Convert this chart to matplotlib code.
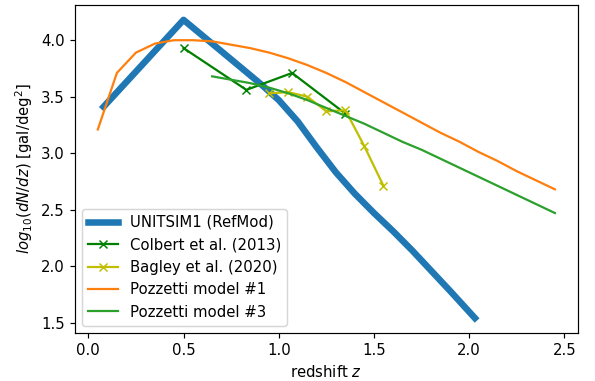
import matplotlib
matplotlib.use('Agg')
import matplotlib.pyplot as plt
import numpy as np

# UNITSIM1 reference model
z_unit = [0.08, 0.5, 0.7, 0.9, 1.0, 1.1, 1.2, 1.3, 1.4, 1.5, 1.6, 1.7, 1.8, 1.9, 2.03]
n_unit = [3.41, 4.18, 3.90, 3.62, 3.47, 3.28, 3.05, 2.83, 2.64, 2.47, 2.31, 2.14, 1.96, 1.78, 1.54]

# observed counts
z_colbert = [0.5, 0.83, 1.07, 1.35]
n_colbert = [3.93, 3.56, 3.71, 3.35]

z_bagley = [0.95, 1.05, 1.15, 1.25, 1.35, 1.45, 1.55]
n_bagley = [3.53, 3.54, 3.50, 3.37, 3.38, 3.06, 2.71]

# Pozzetti et al. models
z_pozz1 = [0.05, 0.15, 0.25, 0.35, 0.45, 0.55, 0.65, 0.75, 0.85, 0.95, 1.05, 1.15,
           1.25, 1.35, 1.45, 1.55, 1.65, 1.75, 1.85, 1.95, 2.05, 2.15, 2.25, 2.35, 2.45]
n_pozz1 = [3.21, 3.71, 3.89, 3.97, 4.00, 4.00, 3.99, 3.96, 3.93, 3.89, 3.84, 3.78,
           3.71, 3.63, 3.54, 3.45, 3.36, 3.27, 3.18, 3.10, 3.01, 2.93, 2.84, 2.76, 2.68]

z_pozz3 = [0.65, 0.75, 0.85, 0.95, 1.05, 1.15, 1.25, 1.35, 1.45, 1.55,
           1.65, 1.75, 1.85, 1.95, 2.05, 2.15, 2.25, 2.35, 2.45]
n_pozz3 = [3.68, 3.65, 3.62, 3.58, 3.53, 3.47, 3.40, 3.33, 3.26, 3.18,
           3.10, 3.03, 2.95, 2.87, 2.79, 2.71, 2.63, 2.55, 2.47]

dpi = 107
fig = plt.figure(figsize=(595 / dpi, 381 / dpi), dpi=dpi)
ax = fig.add_axes([0.126, 0.126, 0.845, 0.861])

ax.plot(z_unit, n_unit, '-', lw=4.4, color='C0', label='UNITSIM1 (RefMod)')
ax.plot(z_colbert, n_colbert, 'x-', color='g', label='Colbert et al. (2013)')
ax.plot(z_bagley, n_bagley, 'x-', color='y', label='Bagley et al. (2020)')
ax.plot(z_pozz1, n_pozz1, '-', color='C1', label='Pozzetti model #1')
ax.plot(z_pozz3, n_pozz3, '-', color='C2', label='Pozzetti model #3')

ax.set_xlabel('redshift $z$')
ax.set_ylabel('$log_{10}(dN/dz)$ [gal/deg$^2$]')
ax.legend(loc='lower left')

fig.savefig('out.png', dpi=dpi)
